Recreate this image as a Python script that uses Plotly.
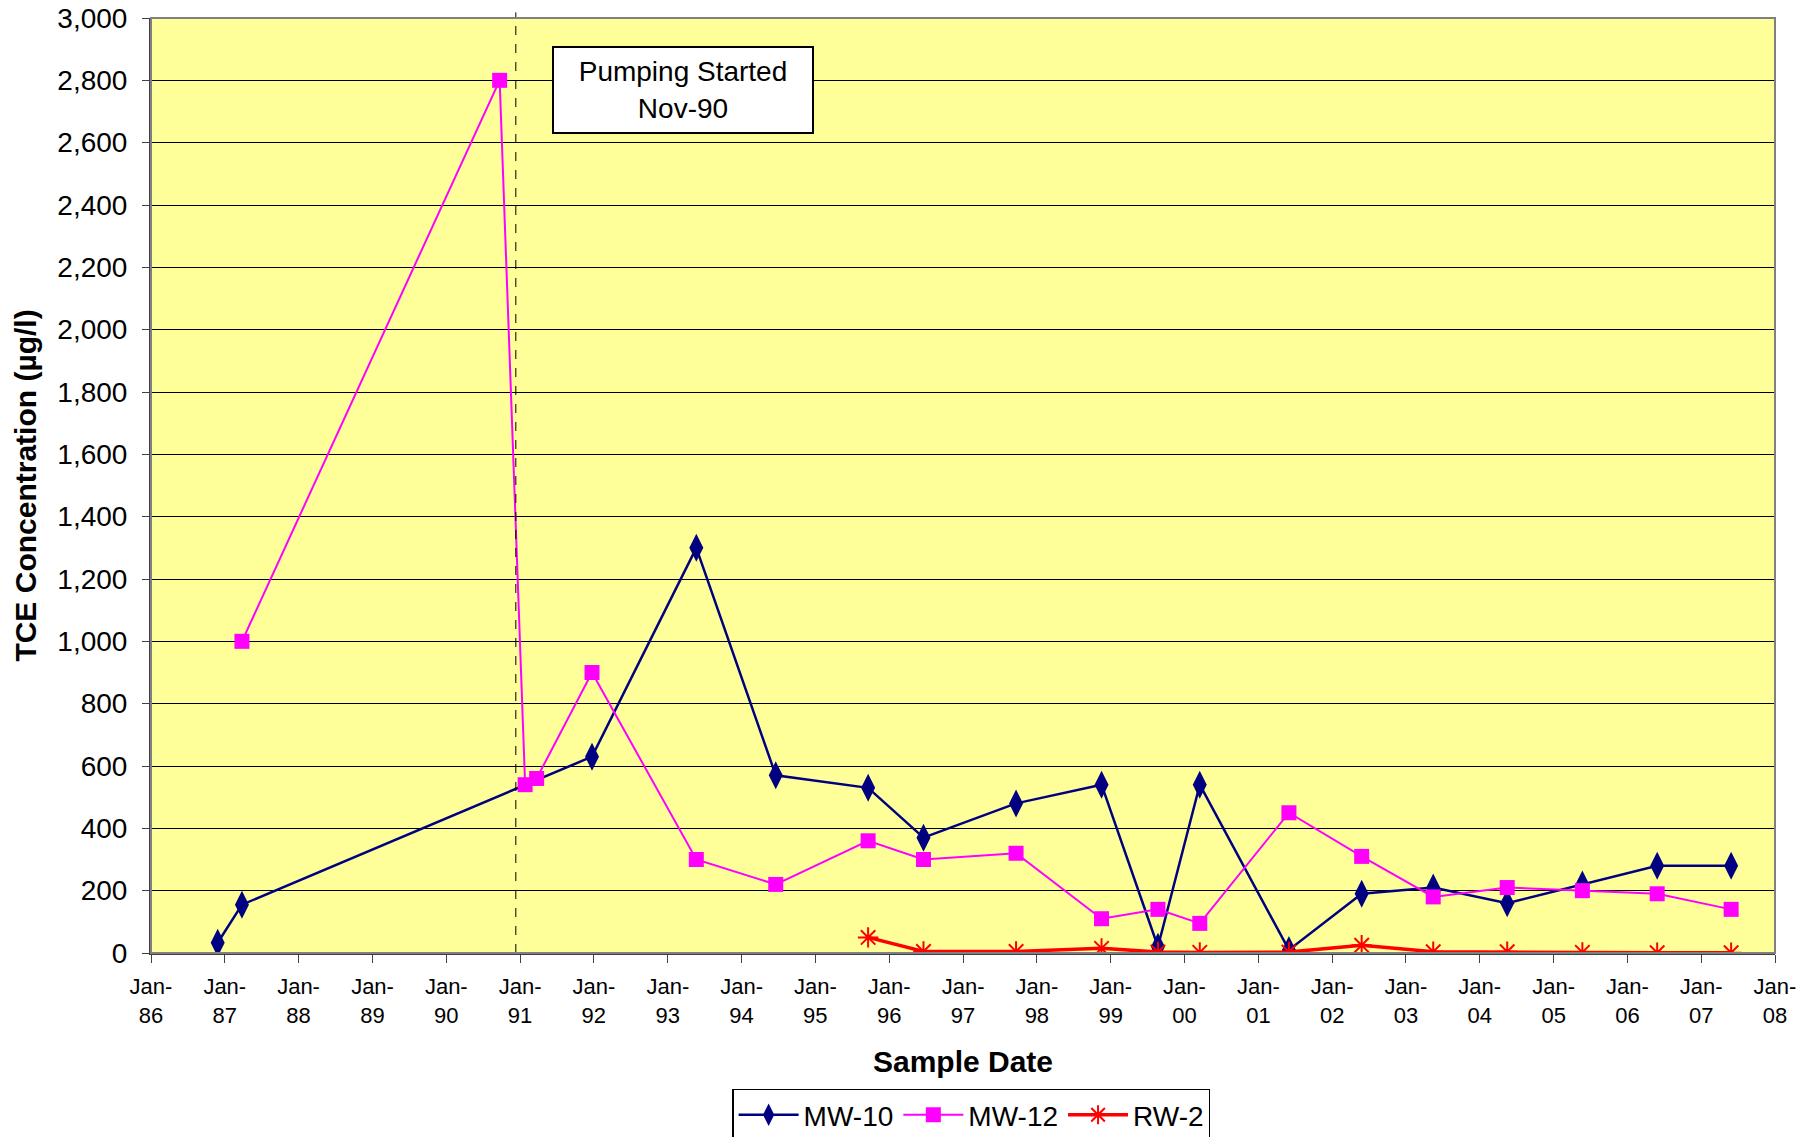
import plotly.graph_objects as go

# ---- data ----
mw10_dates = ['1986-11-27', '1987-03-27', '1991-12-23', '1993-05-22', '1994-06-19',
              '1995-09-19', '1996-06-19', '1997-09-20', '1998-11-17', '1999-08-23',
              '2000-03-17', '2001-06-01', '2002-05-27', '2003-05-16', '2004-05-16',
              '2005-05-23', '2006-05-28', '2007-05-29']
mw10_values = [33, 155, 630, 1300, 570, 530, 370, 480, 540, 20,
               540, 10, 190, 210, 160, 220, 280, 280]

mw12_dates = ['1987-03-27', '1990-09-22', '1991-01-26', '1991-03-24', '1991-12-23',
              '1993-05-22', '1994-06-19', '1995-09-19', '1996-06-19', '1997-09-20',
              '1998-11-17', '1999-08-23', '2000-03-17', '2001-06-01', '2002-05-27',
              '2003-05-16', '2004-05-16', '2005-05-23', '2006-05-28', '2007-05-29']
mw12_values = [1000, 2800, 540, 560, 900, 300, 220, 360, 300, 320,
               110, 140, 95, 450, 310, 180, 210, 200, 190, 140]

rw2_dates = ['1995-09-19', '1996-06-19', '1997-09-20', '1998-11-17', '1999-08-23',
             '2000-03-17', '2001-06-01', '2002-05-27', '2003-05-16', '2004-05-16',
             '2005-05-23', '2006-05-28', '2007-05-29']
rw2_values = [50, 5, 5, 15, 3, 2, 3, 25, 4, 4, 2, 1, 1]

tick_years = list(range(1986, 2009))
tick_vals = [f'{y}-01-01' for y in tick_years]
tick_text = [f'Jan-<br>{y % 100:02d}' for y in tick_years]

pumping_start = '1990-12-11'
pumping_label = 'Pumping Started<br>Nov-90'
label_pos = ('1993-03-15', 2768)

FONT = 'Arial, Liberation Sans, sans-serif'

fig = go.Figure()
fig.add_trace(go.Scatter(
    x=mw10_dates, y=mw10_values, name='MW-10', mode='lines+markers',
    line=dict(color='#000080', width=2.5),
    marker=dict(symbol='diamond-tall', size=20, color='#000080')))
fig.add_trace(go.Scatter(
    x=mw12_dates, y=mw12_values, name='MW-12', mode='lines+markers',
    line=dict(color='#FF00FF', width=2),
    marker=dict(symbol='square', size=15, color='#FF00FF')))
fig.add_trace(go.Scatter(
    x=rw2_dates, y=rw2_values, name='RW-2', mode='lines+markers',
    line=dict(color='#FF0000', width=3.5),
    marker=dict(symbol='asterisk-open', size=17, color='#FF0000',
                line=dict(color='#FF0000', width=2))))

# pumping start line
fig.add_shape(type='line', xref='x', yref='paper',
              x0=pumping_start, x1=pumping_start, y0=0, y1=1.006,
              line=dict(color='black', width=1, dash='dash'))
# plot border
fig.add_shape(type='rect', xref='paper', yref='paper', x0=0, x1=1, y0=0, y1=1,
              line=dict(color='#808080', width=2), layer='above')

fig.add_annotation(x=label_pos[0], y=label_pos[1], xref='x', yref='y',
                   text=pumping_label, showarrow=False,
                   font=dict(family=FONT, size=28, color='black'),
                   bgcolor='white', bordercolor='black', borderwidth=2,
                   width=252, height=78, borderpad=3, align='center')

fig.update_layout(
    width=1811, height=1137,
    margin=dict(l=151, r=36, t=18, b=184, autoexpand=False),
    paper_bgcolor='white', plot_bgcolor='#FFFF99',
    font=dict(family=FONT, color='black'),
    showlegend=True,
    legend=dict(orientation='h', x=0.505, xanchor='center', y=-0.145, yanchor='top',
                bgcolor='white', bordercolor='black', borderwidth=1.5,
                font=dict(family=FONT, size=28), itemwidth=60, tracegroupgap=0),
    xaxis=dict(type='date', range=['1986-01-01', '2008-01-01'],
               tickvals=tick_vals, ticktext=tick_text,
               tickfont=dict(family=FONT, size=22), ticklabelstandoff=5,
               ticks='outside', ticklen=8, tickcolor='#404040', tickwidth=1,
               showgrid=False, showline=True, linecolor='#404040', linewidth=2,
               zeroline=False, automargin=False,
               title=dict(text='<b>Sample Date</b>', font=dict(family=FONT, size=30), standoff=24)),
    yaxis=dict(range=[0, 3000], dtick=200, tickformat=',',
               tickfont=dict(family=FONT, size=28), ticklabelstandoff=9,
               ticks='outside', ticklen=7, tickcolor='#404040', tickwidth=1,
               showgrid=True, gridcolor='black', gridwidth=1,
               showline=True, linecolor='#404040', linewidth=2,
               zeroline=False, automargin=False,
               title=dict(text='<b>TCE Concentration (µg/l)</b>', font=dict(family=FONT, size=30), standoff=12)),
)

fig.write_html('out.html')
